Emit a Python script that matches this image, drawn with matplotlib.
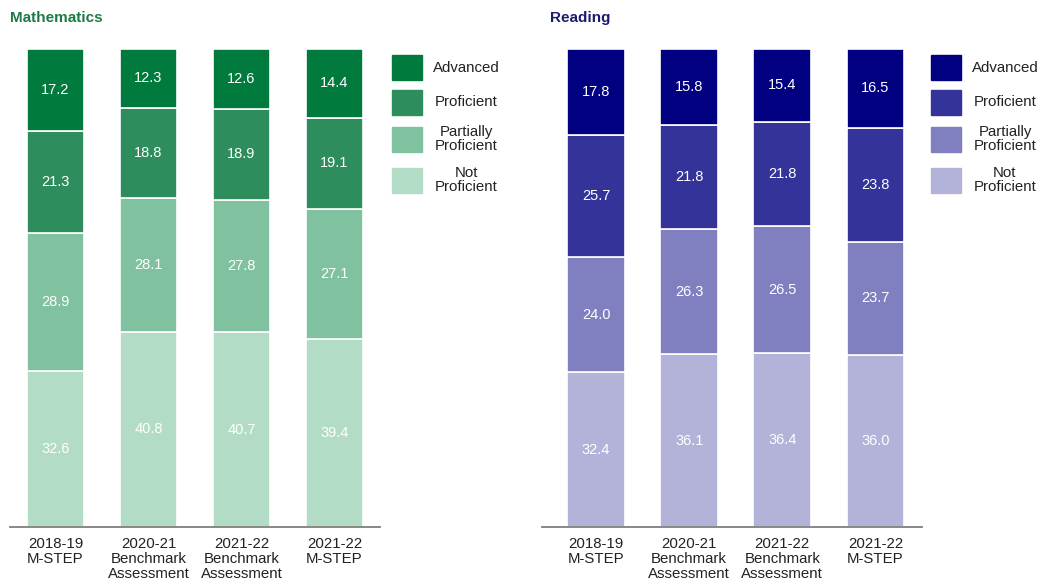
import matplotlib.pyplot as plt
from matplotlib.patches import Rectangle

plt.rcParams['font.family'] = ['Liberation Sans', 'DejaVu Sans']

assessments = ['2018-19\nM-STEP', '2020-21\nBenchmark\nAssessment',
               '2021-22\nBenchmark\nAssessment', '2021-22\nM-STEP']
levels = ['Not\nProficient', 'Partially\nProficient', 'Proficient', 'Advanced']

# bottom-to-top: not proficient, partially proficient, proficient, advanced
math_not = [32.6, 40.8, 40.7, 39.4]
math_partial = [28.9, 28.1, 27.8, 27.1]
math_prof = [21.3, 18.8, 18.9, 19.1]
math_adv = [17.2, 12.3, 12.6, 14.4]

read_not = [32.4, 36.1, 36.4, 36.0]
read_partial = [24.0, 26.3, 26.5, 23.7]
read_prof = [25.7, 21.8, 21.8, 23.8]
read_adv = [17.8, 15.8, 15.4, 16.5]

math_colors = ['#b3dcc6', '#80c19f', '#2e8d5c', '#007a3d']
read_colors = ['#b3b3d9', '#8080c0', '#333399', '#000080']

W, H = 1044, 583
fig = plt.figure(figsize=(W / 100, H / 100), dpi=100)


def px(x0, y0, w, h):
    # pixel box (top-left origin) -> figure fraction rect
    return [x0 / W, 1 - (y0 + h) / H, w / W, h / H]


def panel(rect, xlim, series, colors, title, title_color, title_x, leg_x):
    ax = fig.add_axes(px(*rect))
    x = range(len(assessments))
    bottom = [0] * len(assessments)
    for vals, col in zip(series, colors):
        ax.bar(x, vals, 0.62, bottom=bottom, color=col,
               edgecolor='white', linewidth=1.2)
        for i, v in enumerate(vals):
            ax.text(i, bottom[i] + v / 2, f'{v:.1f}', ha='center',
                    va='center', color='white', fontsize=10.5)
        bottom = [b + v for b, v in zip(bottom, vals)]
    ax.set_xlim(*xlim)
    ax.set_ylim(0, 100)
    ax.set_xticks(list(x))
    ax.set_xticklabels(assessments, fontsize=10.8, color='#222222',
                       linespacing=1.1)
    ax.tick_params(axis='x', length=0, pad=7)
    ax.set_yticks([])
    for s in ['top', 'right', 'left']:
        ax.spines[s].set_visible(False)
    ax.spines['bottom'].set_color('#7f7f7f')
    ax.spines['bottom'].set_linewidth(1.3)

    fig.text(title_x / W, 1 - 18 / H, title, fontsize=11, fontweight='bold',
             color=title_color, va='center', ha='left')

    # legend, top entry first
    boxes = [(168, 180), (127, 139), (90, 102), (55, 68)]
    for (by, ty), lab, col in zip(boxes, levels, colors):
        fig.add_artist(Rectangle((leg_x / W, 1 - (by + 25) / H), 30 / W,
                                 25 / H, transform=fig.transFigure,
                                 color=col))
        fig.text((leg_x + 74) / W, 1 - ty / H, lab, ha='center',
                 va='center', fontsize=10.8, color='#222222',
                 linespacing=1.05)


panel((10, 49, 370, 478), (-0.49, 3.49),
      [math_not, math_partial, math_prof, math_adv], math_colors,
      'Mathematics', '#1d7a46', 10, 392)
panel((542, 49, 380, 478), (-0.58, 3.5),
      [read_not, read_partial, read_prof, read_adv], read_colors,
      'Reading', '#1c1c6e', 550, 931)

fig.savefig('out.png', dpi=100)
